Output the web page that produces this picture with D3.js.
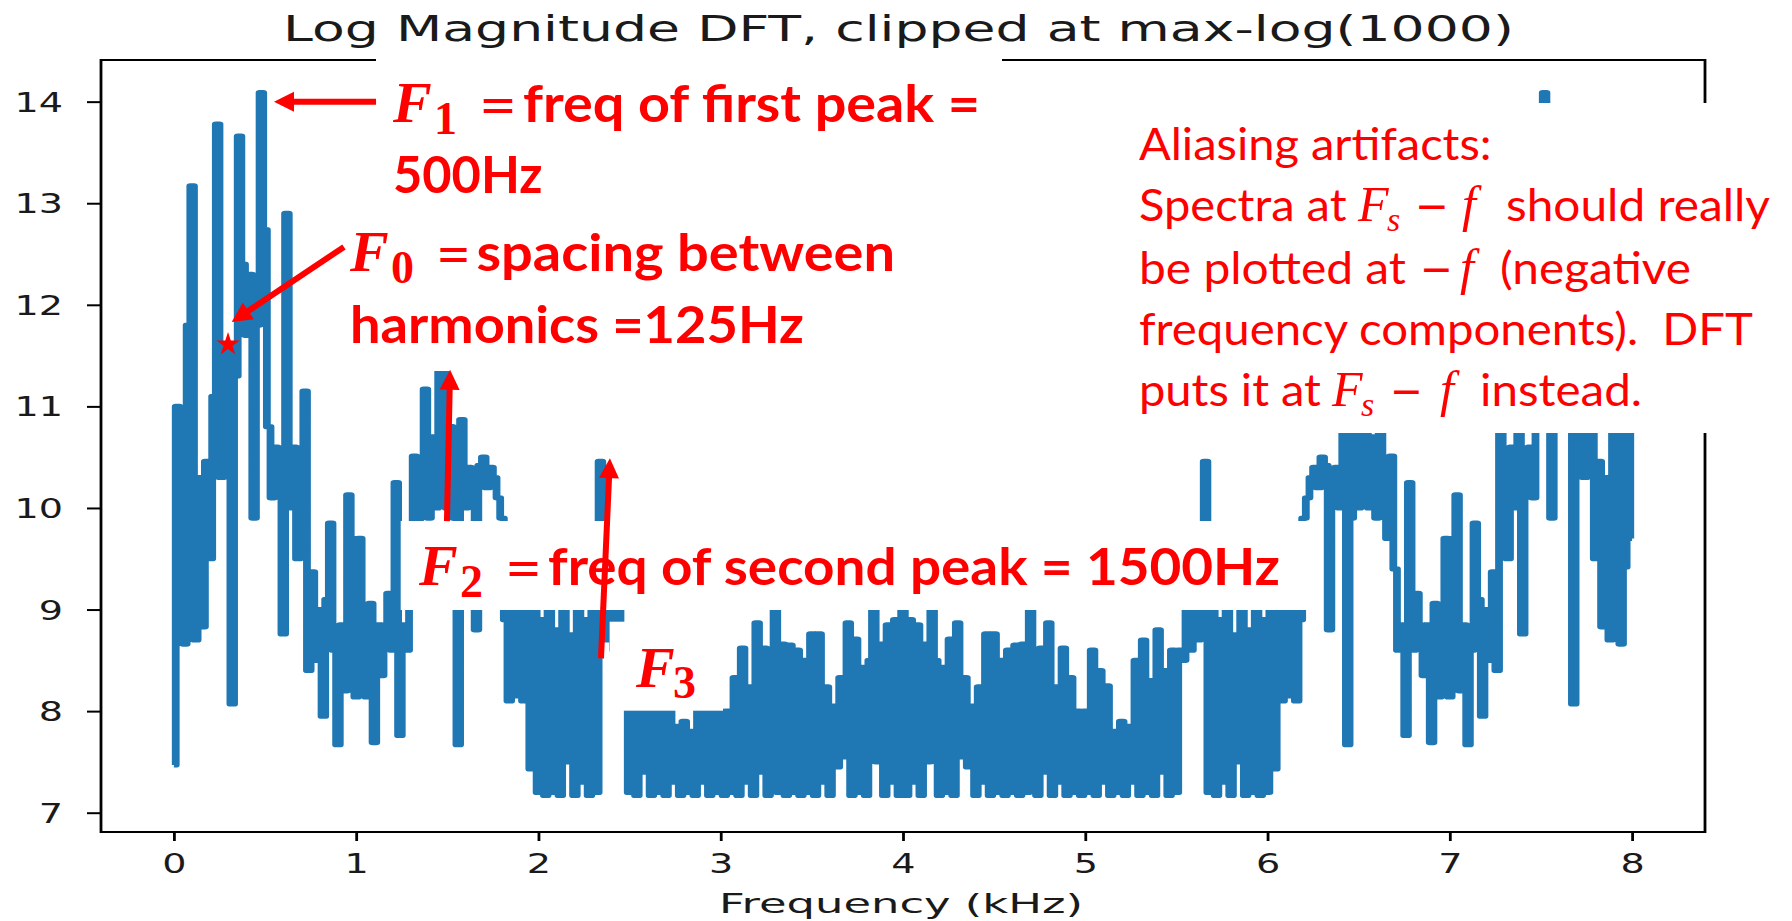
<!DOCTYPE html>
<html><head><meta charset="utf-8">
<script src="https://cdn.jsdelivr.net/npm/d3@7/dist/d3.min.js"></script>
<style>html,body{margin:0;padding:0;background:#fff;}svg{display:block}</style>
</head><body>
<svg id="chart" width="1792" height="921"></svg>
<script>
// ---- data (log magnitude, 0.02 kHz per sample) ----
const freqStepKHz = 0.02;
const logMag0to2 = [7.47, 11.0, 9.42, 8.66, 11.8, 13.17, 8.7, 10.3, 8.83, 10.46,
 9.5, 11.1, 13.78, 10.3, 11.2, 11.6, 8.07, 11.3, 13.66, 12.4,
 11.7, 12.3, 9.9, 11.8, 14.09, 12.74, 10.8, 10.1, 10.6, 10.4,
 8.76, 12.9, 10.0, 10.6, 9.5, 9.9, 11.15, 8.4, 9.37, 8.5,
 9.0, 7.95, 9.1, 9.85, 8.6, 7.67, 8.85, 8.2, 10.13, 9.7,
 8.14, 9.7, 8.85, 8.14, 9.06, 7.69, 8.85, 8.35, 8.85, 9.16,
 8.6, 10.25, 7.76, 8.85, 8.6, 9.4, 10.51, 9.7, 10.4, 11.17,
 9.9, 10.7, 10.0, 11.4, 11.8, 10.0, 10.8, 9.9, 7.67, 10.87,
 10.0, 10.4, 10.3, 8.8, 10.42, 10.5, 10.2, 10.4, 10.3, 10.1,
 9.9, 8.9, 8.1, 9.1, 8.15, 9.2, 8.1, 9.3, 7.43, 9.0,
 7.2];
const logMag2to4 = [8.9, 7.17, 9.1, 7.2, 8.8, 7.17, 9.0, 7.5, 8.75, 7.17,
 9.1, 7.3, 8.9, 7.17, 9.0, 7.2, 10.46, 9.2, 8.7, 9.0,
 8.6, 9.1, 8.5, 8.6, 7.2, 8.6, 7.17, 8.4, 7.4, 8.8,
 7.17, 8.3, 7.2, 8.7, 7.17, 8.5, 7.3, 7.85, 7.17, 7.9,
 7.2, 7.8, 7.17, 8.25, 7.3, 8.4, 7.17, 8.6, 7.2, 8.0,
 7.17, 8.0, 7.2, 8.33, 7.17, 8.62, 7.3, 8.24, 7.17, 8.87,
 7.4, 8.62, 7.17, 8.6, 9.05, 7.2, 8.66, 7.17, 8.65, 7.2,
 8.6, 7.17, 8.5, 7.2, 8.76, 7.17, 8.76, 7.3, 8.24, 7.17,
 8.05, 7.45, 8.33, 7.55, 8.87, 7.17, 8.71, 7.2, 8.43, 7.17,
 8.5, 9.0, 7.5, 8.66, 7.17, 8.85, 7.3, 8.9, 7.17, 9.0];
const logMag4to6 = [7.17, 8.9, 7.3, 8.85, 7.17, 8.66, 7.5, 9.0, 8.5, 7.17,
 8.43, 7.2, 8.71, 7.17, 8.87, 7.55, 8.33, 7.45, 8.05, 7.17,
 8.24, 7.3, 8.76, 7.17, 8.76, 7.2, 8.5, 7.17, 8.6, 7.2,
 8.65, 7.17, 8.66, 7.2, 9.05, 8.6, 7.17, 8.62, 7.4, 8.87,
 7.17, 8.24, 7.3, 8.62, 7.17, 8.33, 7.2, 8.0, 7.17, 8.0,
 7.2, 8.6, 7.17, 8.4, 7.3, 8.25, 7.17, 7.8, 7.2, 7.9,
 7.17, 7.85, 7.3, 8.5, 7.17, 8.7, 7.2, 8.3, 7.17, 8.8,
 7.4, 8.4, 7.17, 8.6, 7.2, 8.6, 8.5, 9.1, 8.6, 9.0,
 8.7, 9.2, 10.46, 7.2, 9.0, 7.17, 8.9, 7.3, 9.1, 7.17,
 8.75, 7.5, 9.0, 7.17, 8.8, 7.2, 9.1, 7.17, 8.9, 7.2];
const logMag6to8 = [9.0, 7.43, 9.3, 8.1, 9.2, 8.15, 9.1, 8.1, 8.9, 9.9,
 10.1, 10.3, 10.4, 10.2, 10.5, 10.42, 8.8, 10.3, 10.4, 10.0,
 10.87, 7.67, 9.9, 10.8, 10.0, 11.8, 11.4, 10.0, 10.7, 9.9,
 11.17, 10.4, 9.7, 10.51, 9.4, 8.6, 8.85, 7.76, 10.25, 8.6,
 9.16, 8.85, 8.35, 8.85, 7.69, 9.06, 8.14, 8.85, 9.7, 8.14,
 9.7, 10.13, 8.2, 8.85, 7.67, 8.6, 9.85, 9.1, 7.95, 9.0,
 8.5, 9.37, 8.4, 11.15, 9.9, 9.5, 10.6, 10.0, 12.9, 8.76,
 10.4, 10.6, 10.1, 10.8, 12.74, 14.09, 11.8, 9.9, 12.3, 11.7,
 12.4, 13.66, 11.3, 8.07, 11.6, 11.2, 10.3, 13.78, 11.1, 9.5,
 10.46, 8.83, 10.3, 8.7, 13.17, 11.8, 8.66, 9.42, 11.0, 9.7];
const xTicks = [0, 1, 2, 3, 4, 5, 6, 7, 8];
const yTicks = [7, 8, 9, 10, 11, 12, 13, 14];
const titleText = "Log Magnitude DFT, clipped at max-log(1000)";
const xLabelText = "Frequency (kHz)";

const allMag = logMag0to2.concat(logMag2to4, logMag4to6, logMag6to8);
const data = allMag.map((v, i) => ({ f: i * freqStepKHz, v: v }));

// ---- layout ----
const svg = d3.select("#chart");
const x = d3.scaleLinear().domain([-0.4, 8.4]).range([101, 1705]);
const y = d3.scaleLinear().domain([6.81, 14.41]).range([832, 60]);
const SX = 1.44;           // horizontal stretch of the original figure
const TXT = "#1a1a1a";

// spines
const gSp = svg.append("g");
gSp.append("line").attr("x1", 101).attr("x2", 101).attr("y1", 59).attr("y2", 833).attr("stroke", "#000").attr("stroke-width", 2.8);
gSp.append("line").attr("x1", 1705).attr("x2", 1705).attr("y1", 59).attr("y2", 833).attr("stroke", "#000").attr("stroke-width", 2.8);
gSp.append("line").attr("x1", 100).attr("x2", 1706).attr("y1", 60).attr("y2", 60).attr("stroke", "#000").attr("stroke-width", 2);
gSp.append("line").attr("x1", 100).attr("x2", 1706).attr("y1", 832).attr("y2", 832).attr("stroke", "#000").attr("stroke-width", 2);

// x axis
const gx = svg.append("g").attr("transform", "translate(0,832)")
  .call(d3.axisBottom(x).tickValues(xTicks).tickSize(9).tickFormat(d3.format("d")));
gx.select(".domain").remove();
gx.selectAll(".tick line").attr("stroke", "#000").attr("stroke-width", 2.8);
gx.selectAll(".tick text").attr("y", 41.5).attr("dy", null)
  .attr("font-family", "DejaVu Sans").attr("font-size", 26.5).attr("fill", TXT)
  .attr("transform", `scale(${SX},1)`);

// y axis
const gy = svg.append("g").attr("transform", "translate(101,0)")
  .call(d3.axisLeft(y).tickValues(yTicks).tickSize(14).tickFormat(d3.format("d")));
gy.select(".domain").remove();
gy.selectAll(".tick line").attr("stroke", "#000").attr("stroke-width", 2);
gy.selectAll(".tick text").attr("x", -38 / SX).attr("y", 9.5).attr("dy", null)
  .attr("font-family", "DejaVu Sans").attr("font-size", 26.5).attr("fill", TXT)
  .attr("transform", `scale(${SX},1)`);

// stretched matplotlib texts
function stretchedText(str, cx, baseline, size, targetW) {
  const t = svg.append("text").text(str).attr("font-family", "DejaVu Sans")
    .attr("font-size", size).attr("fill", TXT).attr("text-anchor", "middle");
  const w = t.node().getComputedTextLength();
  const s = targetW / w;
  t.attr("transform", `translate(${cx},${baseline}) scale(${s},1)`);
  return t;
}
stretchedText(titleText, 898.5, 41, 36, 1231);
stretchedText(xLabelText, 901, 912.5, 26.5, 364);

// spectrum line (dense samples -> vertical strokes; drawn in stretched space)
const LW = 1.5;
const gLine = svg.append("g").attr("transform", `scale(${LW},1)`);
gLine.append("path").datum(data)
  .attr("d", d3.line().curve(d3.curveStep).x(d => x(d.f) / LW).y(d => y(d.v)))
  .attr("fill", "none").attr("stroke", "#1f77b4").attr("stroke-width", 5.2)
  .attr("stroke-linejoin", "round");

// ---- annotation overlay (white boxes, red text, arrows) ----
const gAnn = svg.append("g");
const boxes = [
  [376, 57, 626, 150],
  [340, 200, 560, 171],
  [400.7, 521, 920.3, 89],
  [609.6, 621.7, 113.4, 89],
  [1120, 103, 672, 330]
];
boxes.forEach(b => gAnn.append("rect").attr("x", b[0]).attr("y", b[1]).attr("width", b[2]).attr("height", b[3]).attr("fill", "#fff"));

const RED = "#ff0000";
const bold = { family: "Lato, 'Open Sans', sans-serif", size: 52, weight: 700, style: "normal", fit: true };
const mathBI = { family: "'Liberation Serif', 'DejaVu Serif', serif", size: 58, weight: 700, style: "italic", fit: false };
const mathSub = { family: "'Liberation Serif', 'DejaVu Serif', serif", size: 46, weight: 700, style: "normal", fit: false };
const mathEq = { family: "'DejaVu Serif', serif", size: 50, weight: 400, style: "normal", fit: true };
const reg = { family: "Lato, 'Open Sans', sans-serif", size: 44, weight: 400, style: "normal", fit: true };
const mathI = { family: "'Liberation Serif', 'DejaVu Serif', serif", size: 50, weight: 400, style: "italic", fit: false };
const mathSubI = { family: "'Liberation Serif', 'DejaVu Serif', serif", size: 34, weight: 400, style: "italic", fit: false };
const minus = { family: "'DejaVu Serif', serif", size: 44, weight: 400, style: "normal", fit: true };

const labels = [
  ["F", 393, 430, 122, mathBI], ["1", 434, 453, 134, mathSub], ["=", 479, 517, 122, mathEq],
  ["freq of first peak =", 523, 980, 122, bold],
  ["500Hz", 393, 542.5, 193, bold],
  ["F", 350, 390, 271, mathBI], ["0", 391, 410, 283, mathSub], ["=", 436, 471, 271, mathEq],
  ["spacing between", 476.5, 895, 271, bold],
  ["harmonics =125Hz", 350, 804, 343, bold],
  ["F", 419, 459, 585, mathBI], ["2", 460, 482, 597, mathSub], ["=", 505, 542, 585, mathEq],
  ["freq of second peak = 1500Hz", 548, 1280, 585, bold],
  ["F", 636, 672, 687, mathBI], ["3", 673, 695, 698, mathSub],
  ["Aliasing artifacts:", 1139, 1491.6, 160, reg],
  ["Spectra at", 1139, 1346.5, 221, reg], ["F", 1358, 1384, 221, mathI], ["s", 1387, 1398, 231, mathSubI],
  ["\u2212", 1415, 1449, 221, minus], ["f", 1462, 1492, 221, mathI], ["should really", 1506, 1770, 221, reg],
  ["be plotted at", 1139, 1406, 284, reg], ["\u2212", 1420, 1453, 284, minus], ["f", 1460, 1486, 284, mathI],
  ["(negative", 1500, 1691, 284, reg],
  ["frequency components).\u00a0 DFT", 1139, 1753, 345, reg],
  ["puts it at", 1139, 1321, 406, reg], ["F", 1332, 1358, 406, mathI], ["s", 1361, 1372, 416, mathSubI],
  ["\u2212", 1390, 1423, 406, minus], ["f", 1440, 1466, 406, mathI], ["instead.", 1480, 1642, 406, reg]
];
labels.forEach(([s, x0, x1, base, st]) => {
  const t = gAnn.append("text").text(s).attr("x", x0).attr("y", base)
    .attr("font-family", st.family).attr("font-size", st.size)
    .attr("font-weight", st.weight).attr("font-style", st.style).attr("fill", RED);
  if (st.fit) t.attr("textLength", x1 - x0).attr("lengthAdjust", "spacingAndGlyphs");
});

function arrow(f1, v1, f2, v2) {
  const x1 = x(f1), y1 = y(v1), x2 = x(f2), y2 = y(v2);
  const dx = x2 - x1, dy = y2 - y1, L = Math.hypot(dx, dy), ux = dx / L, uy = dy / L;
  const hl = 20, hw = 10;
  const bx = x2 - ux * hl, by = y2 - uy * hl;
  gAnn.append("line").attr("x1", x1).attr("y1", y1).attr("x2", bx + ux * 3).attr("y2", by + uy * 3)
    .attr("stroke", RED).attr("stroke-width", 6);
  gAnn.append("path").attr("d", `M${x2},${y2}L${bx - uy * hw},${by + ux * hw}L${bx + uy * hw},${by - ux * hw}Z`)
    .attr("fill", RED);
}
arrow(1.109, 14.0, 0.549, 14.0);     // F1
arrow(0.933, 12.57, 0.317, 11.83);   // F0
arrow(1.498, 9.87, 1.515, 11.36);    // F2
arrow(2.343, 8.52, 2.392, 10.49);    // F3
gAnn.append("path").attr("d", d3.symbol().type(d3.symbolStar).size(170)())
  .attr("transform", `translate(${x(0.297)},${y(11.61)})`).attr("fill", RED);
</script>
</body></html>
